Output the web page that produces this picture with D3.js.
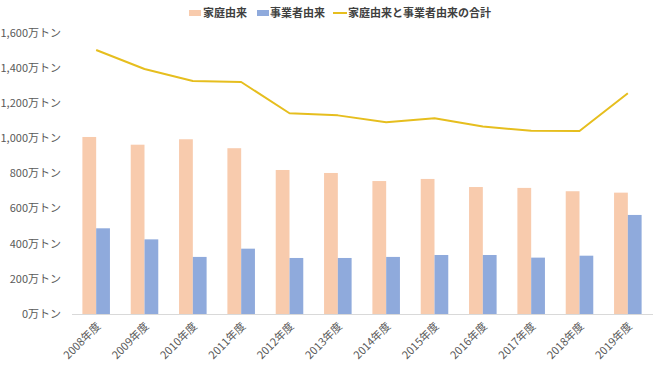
<!DOCTYPE html>
<html>
<head>
<meta charset="utf-8">
<script src="https://cdn.jsdelivr.net/npm/d3@7"></script>
<style>
  body { margin: 0; background: #fff; }
  text { font-family: "Noto Sans CJK JP", "Noto Sans", sans-serif; }
</style>
</head>
<body>
<div id="chart"></div>
<script>
// values in 万トン
const years = ['2008年度','2009年度','2010年度','2011年度','2012年度','2013年度',
  '2014年度','2015年度','2016年度','2017年度','2018年度','2019年度']
const household = [1008, 964, 995, 944, 820, 803, 757, 769, 723, 718, 699, 691]
const business = [488, 425, 325, 372, 319, 319, 325, 336, 336, 321, 332, 564]
const totals = [1503, 1395, 1327, 1321, 1143, 1131, 1092, 1114, 1067, 1044, 1042, 1257]
const yTicks = [0, 200, 400, 600, 800, 1000, 1200, 1400, 1600]
const seriesNames = ['家庭由来', '事業者由来', '家庭由来と事業者由来の合計']

const colors = ['#F8CBAD', '#8FAADC', '#E6BE1E']

const width = 660
const height = 370
const margin = { top: 33, right: 8, bottom: 56, left: 72 }

const svg = d3.select('#chart')
  .append('svg')
  .attr('width', width)
  .attr('height', height)

const x = d3.scaleBand()
  .domain(years)
  .range([margin.left, width - margin.right])
  .paddingInner(0.43)
  .paddingOuter(0.215)

const xSub = d3.scaleBand()
  .domain([0, 1])
  .range([0, x.bandwidth()])

const y = d3.scaleLinear()
  .domain([0, 1600])
  .range([height - margin.bottom, margin.top])

// y axis labels (no line, no ticks)
svg.append('g')
  .selectAll('text')
  .data(yTicks)
  .enter()
  .append('text')
  .attr('x', margin.left - 11)
  .attr('y', d => y(d))
  .attr('dy', '0.35em')
  .attr('text-anchor', 'end')
  .attr('font-size', 11)
  .attr('fill', '#595959')
  .text(d => d3.format(',')(d) + '万トン')

// bars
const groups = svg.append('g')
  .selectAll('g')
  .data(years)
  .enter()
  .append('g')
  .attr('transform', d => 'translate(' + x(d) + ',0)')

groups.append('rect')
  .attr('x', xSub(0))
  .attr('width', xSub.bandwidth())
  .attr('y', (d, i) => y(household[i]))
  .attr('height', (d, i) => y(0) - y(household[i]))
  .attr('fill', colors[0])

groups.append('rect')
  .attr('x', xSub(1))
  .attr('width', xSub.bandwidth())
  .attr('y', (d, i) => y(business[i]))
  .attr('height', (d, i) => y(0) - y(business[i]))
  .attr('fill', colors[1])

// x axis line
svg.append('line')
  .attr('x1', margin.left)
  .attr('x2', width - margin.right + 1)
  .attr('y1', y(0) + 0.5)
  .attr('y2', y(0) + 0.5)
  .style('stroke', '#D9D9D9')
  .style('stroke-width', 1)

// x labels, rotated
svg.append('g')
  .selectAll('text')
  .data(years)
  .enter()
  .append('text')
  .attr('text-anchor', 'end')
  .attr('font-size', 11)
  .attr('fill', '#595959')
  .attr('transform', d => 'translate(' + (x(d) + x.bandwidth() / 2 + 5) + ',' + (y(0) + 13) + ') rotate(-45)')
  .text(d => d)

// total line
const line = d3.line()
  .x((d, i) => x(years[i]) + x.bandwidth() / 2)
  .y(d => y(d))

svg.append('path')
  .datum(totals)
  .attr('d', line)
  .attr('fill', 'none')
  .attr('stroke', colors[2])
  .attr('stroke-width', 2)
  .attr('stroke-linejoin', 'round')

// legend
const legend = svg.append('g')
  .attr('font-size', 11)
  .attr('font-weight', 'bold')
  .attr('fill', '#404040')

legend.append('rect')
  .attr('x', 189).attr('y', 10).attr('width', 12).attr('height', 6)
  .attr('fill', colors[0])
legend.append('text')
  .attr('x', 203).attr('y', 13).attr('dy', '0.35em')
  .text(seriesNames[0])

legend.append('rect')
  .attr('x', 257).attr('y', 10).attr('width', 12).attr('height', 6)
  .attr('fill', colors[1])
legend.append('text')
  .attr('x', 270).attr('y', 13).attr('dy', '0.35em')
  .text(seriesNames[1])

legend.append('line')
  .attr('x1', 333).attr('x2', 347).attr('y1', 13).attr('y2', 13)
  .style('stroke', colors[2])
  .style('stroke-width', 2)
legend.append('text')
  .attr('x', 348).attr('y', 13).attr('dy', '0.35em')
  .text(seriesNames[2])
</script>
</body>
</html>
